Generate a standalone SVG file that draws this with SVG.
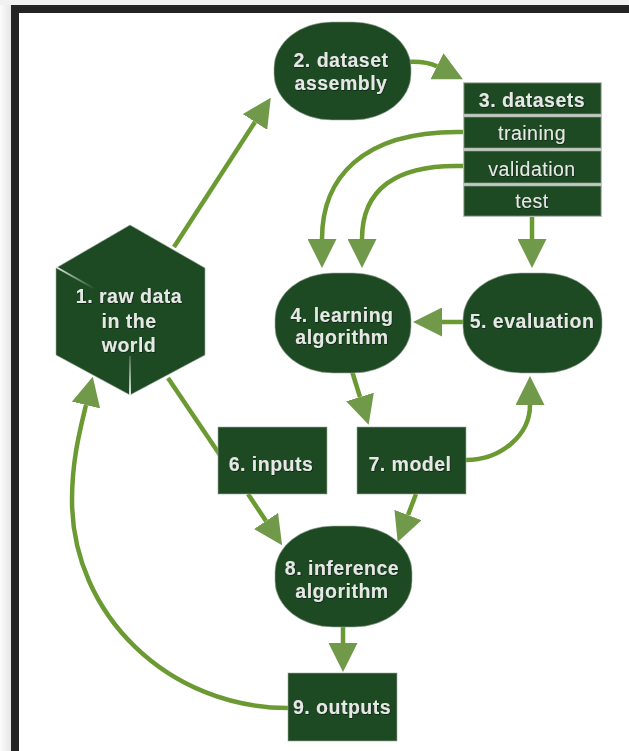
<svg xmlns="http://www.w3.org/2000/svg" width="629" height="751" viewBox="0 0 629 751">
  <defs>
    <style>
      .node { fill: #1e4a23; stroke: #9fae9f; stroke-width: 1; stroke-opacity: 0.6; }
      .lbl { font-family: "Liberation Sans", Arial, Helvetica, sans-serif; font-size: 19.5px; font-weight: bold; fill: #e6e8e6; text-anchor: middle; letter-spacing: 0.5px; filter: url(#shade); }
      .row { font-family: "Liberation Sans", Arial, Helvetica, sans-serif; font-size: 19.5px; font-weight: normal; fill: #e6e8e6; text-anchor: middle; letter-spacing: 0.5px; filter: url(#shade); }
      .wire { fill: none; stroke: #6b9a33; stroke-width: 4.5; }
      .arrow { marker-end: url(#head); }
    </style>
    <marker id="head" markerUnits="userSpaceOnUse" viewBox="0 0 29 29" refX="0" refY="14.5" markerWidth="29" markerHeight="29" orient="auto">
      <path d="M0,0 L29,14.5 L0,29 Z" fill="#71994a"/>
    </marker>
    <filter id="shade" x="-10%" y="-30%" width="120%" height="160%">
      <feDropShadow dx="0.6" dy="0.8" stdDeviation="0.6" flood-color="#061a08" flood-opacity="0.8"/>
    </filter>
    <linearGradient id="edgeA" gradientUnits="userSpaceOnUse" x1="56" y1="267" x2="95" y2="289">
      <stop offset="0" stop-color="#e4ece4"/>
      <stop offset="1" stop-color="#e4ece4" stop-opacity="0"/>
    </linearGradient>
    <linearGradient id="edgeB" gradientUnits="userSpaceOnUse" x1="130" y1="395" x2="130" y2="356">
      <stop offset="0" stop-color="#e4ece4"/>
      <stop offset="1" stop-color="#e4ece4" stop-opacity="0.2"/>
    </linearGradient>
    <linearGradient id="side" x1="0" y1="0" x2="1" y2="0">
      <stop offset="0" stop-color="#fbfbfb"/>
      <stop offset="1" stop-color="#e6e6e6"/>
    </linearGradient>
  </defs>

  <!-- page frame -->
  <rect x="0" y="0" width="629" height="751" fill="#f1f1f1"/>
  <rect x="0" y="5" width="11" height="746" fill="url(#side)"/>
  <rect x="11" y="5" width="618" height="746" fill="#232323"/>
  <rect x="19" y="13" width="610" height="738" fill="#ffffff"/>

  <!-- connectors -->
  <g id="connectors">
    <path class="wire arrow" d="M174,247 L255,122"/>
    <path class="wire arrow" d="M406,62 Q426,60.8 437,66.3"/>
    <path class="wire arrow" d="M463,132 C360,130 322,180 322,239"/>
    <path class="wire arrow" d="M463,166 C395,164 362,190 362,239"/>
    <path class="wire arrow" d="M532,217 L532,239"/>
    <path class="wire arrow" d="M463,322 L442,322"/>
    <path class="wire arrow" d="M351,368 L360,397"/>
    <path class="wire arrow" d="M466,460 C501,460 530,435 530,405"/>
    <path class="wire" d="M168,378 L220,455"/>
    <path class="wire arrow" d="M248,494 L266,521"/>
    <path class="wire arrow" d="M416,494 L408,515"/>
    <path class="wire arrow" d="M343,624 L343,643"/>
    <path class="wire arrow" d="M288,708 C169,708 72,615 72,500 C72,460 80,430 86,405"/>
  </g>

  <!-- 1. raw data in the world -->
  <g id="node1">
    <polygon class="node" points="130,225 205,268 205,355 130,395 56,355 56,268"/>
    <line x1="56" y1="267" x2="95" y2="289" stroke="url(#edgeA)" stroke-width="2"/>
    <line x1="130" y1="395" x2="130" y2="356" stroke="url(#edgeB)" stroke-width="2"/>
    <text class="lbl" x="129" y="303">1. raw data</text>
    <text class="lbl" x="129" y="328">in the</text>
    <text class="lbl" x="129" y="352">world</text>
  </g>

  <!-- 2. dataset assembly -->
  <g id="node2">
    <rect class="node" x="274" y="22" width="137" height="98" rx="58" ry="46"/>
    <text class="lbl" x="341" y="67">2. dataset</text>
    <text class="lbl" x="341" y="90">assembly</text>
  </g>

  <!-- 3. datasets table -->
  <g id="node3">
    <rect x="463" y="82" width="139" height="135" fill="#c3c9c3"/>
    <rect class="node" x="464" y="83" width="137" height="31" stroke="none"/>
    <rect class="node" x="464" y="117" width="137" height="31" stroke="none"/>
    <rect class="node" x="464" y="151" width="137" height="32" stroke="none"/>
    <rect class="node" x="464" y="186" width="137" height="30" stroke="none"/>
    <text class="lbl" x="532" y="107">3. datasets</text>
    <text class="row" x="532" y="139.5">training</text>
    <text class="row" x="532" y="175.5">validation</text>
    <text class="row" x="532" y="208">test</text>
  </g>

  <!-- 4. learning algorithm -->
  <g id="node4">
    <rect class="node" x="275" y="273" width="136" height="100" rx="58" ry="46"/>
    <text class="lbl" x="342" y="322">4. learning</text>
    <text class="lbl" x="342" y="343.5">algorithm</text>
  </g>

  <!-- 5. evaluation -->
  <g id="node5">
    <rect class="node" x="463" y="273" width="139" height="100" rx="58" ry="46"/>
    <text class="lbl" x="532" y="328">5. evaluation</text>
  </g>

  <!-- 6. inputs -->
  <g id="node6">
    <rect class="node" x="218" y="427" width="109" height="67"/>
    <text class="lbl" x="271" y="471">6. inputs</text>
  </g>

  <!-- 7. model -->
  <g id="node7">
    <rect class="node" x="357" y="427" width="109" height="67"/>
    <text class="lbl" x="410" y="471">7. model</text>
  </g>

  <!-- 8. inference algorithm -->
  <g id="node8">
    <rect class="node" x="275" y="526" width="137" height="101" rx="58" ry="46"/>
    <text class="lbl" x="342" y="575">8. inference</text>
    <text class="lbl" x="342" y="598">algorithm</text>
  </g>

  <!-- 9. outputs -->
  <g id="node9">
    <rect class="node" x="288" y="673" width="109" height="68"/>
    <text class="lbl" x="342" y="714">9. outputs</text>
  </g>
</svg>
